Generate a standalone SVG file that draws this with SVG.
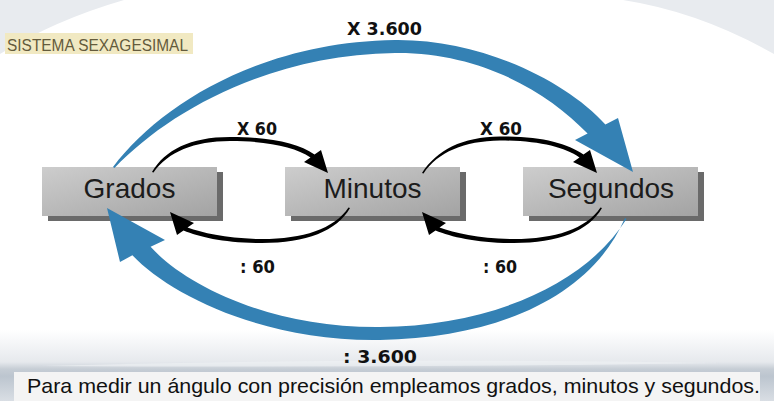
<svg xmlns="http://www.w3.org/2000/svg" width="774" height="401" viewBox="0 0 774 401">
<defs>
<linearGradient id="boxg" x1="0" y1="0" x2="1" y2="1">
<stop offset="0" stop-color="#cdcdcd"/>
<stop offset="1" stop-color="#a3a3a3"/>
</linearGradient>
<linearGradient id="band" x1="0" y1="0" x2="0" y2="1">
<stop offset="0" stop-color="#ffffff"/>
<stop offset="0.45" stop-color="#e6e9ed"/>
<stop offset="0.55" stop-color="#c6cdd5"/>
<stop offset="0.65" stop-color="#bcc5cf"/>
<stop offset="1" stop-color="#d9dee4"/>
</linearGradient>
<style>
.bg{fill:#e8ebef}
.shadow{fill:#6a6a6a}
.box{fill:url(#boxg)}
.node{font-family:"Liberation Sans",Arial,sans-serif;font-size:28px;fill:#1c1c1c;text-anchor:middle}
.lbl{font-family:"DejaVu Sans",Verdana,sans-serif;font-weight:bold;font-size:17px;fill:#111}
.blue{fill:#3481b4}
.blk{fill:#000}
</style>
</defs>
<rect width="774" height="401" fill="#ffffff"/>
<path class="bg" d="M0,0 H124 Q55,20 0,54 Z"/>
<path class="bg" d="M623,0 H774 V54 Q700,12 623,0 Z"/>
<rect x="0" y="330" width="774" height="71" fill="url(#band)"/>
<path d="M40,366 Q380,357 720,363 Q380,368 40,366 Z" fill="#eef1f4" opacity="0.7"/>
<rect x="14" y="372" width="746" height="29" fill="#f4f4f4"/>
<g id="title">
<rect x="5" y="33" width="188" height="21" fill="#f1e9c2"/>
<text x="7" y="50.5" font-family="Liberation Sans,Arial,sans-serif" font-size="16" fill="#645b3c" textLength="181" lengthAdjust="spacingAndGlyphs">SISTEMA SEXAGESIMAL</text>
</g>
<g id="grados">
<rect class="shadow" x="48" y="172" width="175" height="49"/>
<rect class="box" x="42" y="167" width="175" height="49"/>
<text class="node" x="129.5" y="198">Grados</text>
</g>
<g id="minutos">
<rect class="shadow" x="291" y="172" width="175" height="49"/>
<rect class="box" x="285" y="167" width="175" height="49"/>
<text class="node" x="372.5" y="198">Minutos</text>
</g>
<g id="segundos">
<rect class="shadow" x="529" y="172" width="175" height="49"/>
<rect class="box" x="523" y="167" width="175" height="49"/>
<text class="node" x="611" y="198">Segundos</text>
</g>
<g id="connectors">
<path class="blue" d="M113,167 C160,105 260,42 395,40 C480,39 565,80 605.4,124.4 L618,118 L633,172 L575,140 L587.6,133.6 C548,92 480,52 395,53 C270,55 170,110 114.5,168 Z"/>
<path class="blue" d="M625,218 C592,295 500,338 380,340 C265,342 170,295 132.4,255.2 L120,262 L107,208 L165,240 L150.6,246.8 C185,285 270,328 380,327 C490,326 585,285 626.5,219 Z"/>
<path class="blk" d="M152,172 C165,150 190,137 230,137 C270,137 298,143 314.5,154.6 L321,150 L328,173 L304,162 L310.5,157.4 C295,147 268,141 230,141 C194,141 168,152 153.5,172.5 Z"/>
<path class="blk" d="M422,173 C437,150 462,137 500,136.5 C540,136 567,143 583.5,154.6 L590,150 L597,173 L573,162 L579.5,157.4 C564,147 538,140.5 500,140.5 C464,141 438,152 423.5,173.5 Z"/>
<path class="blk" d="M350,208 C337,231 306,243 262,243 C225,243 200,237 183.5,230.4 L177,235 L170,212 L194,223 L187.5,227.6 C203,233 228,239 262,239 C303,239 334,229 348.5,207.5 Z"/>
<path class="blk" d="M602,208 C589,231 558,243 514,243 C477,243 452,237 435.5,230.4 L429,235 L422,212 L446,223 L439.5,227.6 C455,233 480,239 514,239 C555,239 586,229 600.5,207.5 Z"/>
<text class="lbl" x="347" y="35" textLength="75" lengthAdjust="spacingAndGlyphs">X 3.600</text>
<text class="lbl" x="237" y="135" textLength="40" lengthAdjust="spacingAndGlyphs">X 60</text>
<text class="lbl" x="480" y="135" textLength="42" lengthAdjust="spacingAndGlyphs">X 60</text>
<text class="lbl" x="240" y="273" textLength="35" lengthAdjust="spacingAndGlyphs">: 60</text>
<text class="lbl" x="483" y="273" textLength="34" lengthAdjust="spacingAndGlyphs">: 60</text>
<text class="lbl" x="343" y="363" textLength="74" lengthAdjust="spacingAndGlyphs">: 3.600</text>
</g>
<text x="27" y="393" font-family="Liberation Sans,Arial,sans-serif" font-size="21" fill="#111" textLength="733" lengthAdjust="spacingAndGlyphs">Para medir un ángulo con precisión empleamos grados, minutos y segundos.</text>
</svg>
